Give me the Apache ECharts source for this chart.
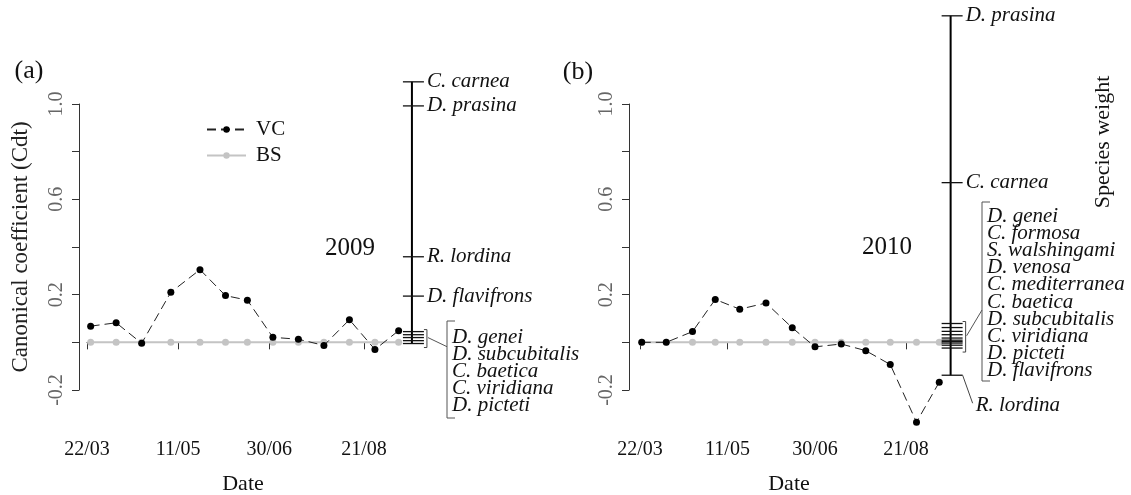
<!doctype html>
<html lang="en">
<head>
<meta charset="UTF-8">
<title>Canonical coefficients 2009 / 2010</title>
<style>html,body{margin:0;background:#fff}</style>
</head>
<body>
<div id="chart" style="width:1131px;height:495px"></div>
<script src="https://cdn.jsdelivr.net/npm/echarts@6/dist/echarts.min.js"></script>
<script>
// x values are day of year, the axis only labels four dates
var dateTicks = [81, 131, 181, 233];
var dateLabels = ['22/03', '11/05', '30/06', '21/08'];
var yLabelValues = [-0.2, 0.2, 0.6, 1.0];

var days2009 = [83, 97, 111, 127, 143, 157, 169, 183, 197, 211, 225, 239, 252];
var vc2009 = [0.068, 0.082, -0.004, 0.21, 0.305, 0.196, 0.177, 0.021, 0.013, -0.013, 0.095, -0.03, 0.049];
var bs2009 = [0, 0, 0, 0, 0, 0, 0, 0, 0, 0, 0, 0, 0];

var days2010 = [82, 96, 111, 124, 138, 153, 168, 181, 196, 210, 224, 239, 252];
var vc2010 = [0, 0, 0.045, 0.18, 0.139, 0.165, 0.061, -0.019, -0.007, -0.035, -0.093, -0.335, -0.167];
var bs2010 = [0, 0, 0, 0, 0, 0, 0, 0, 0, 0, 0, 0, 0];

// species weights, labelled one by one
var species2009 = ['C. carnea', 'D. prasina', 'R. lordina', 'D. flavifrons'];
var weights2009 = [1.093, 0.992, 0.359, 0.194];
// species weights close to zero, labelled as a block
var group2009 = ['D. genei', 'D. subcubitalis', 'C. baetica', 'C. viridiana', 'D. picteti'];
var groupWeights2009 = [0.045, 0.032, 0.02, 0.007, -0.005];

var species2010 = ['D. prasina', 'C. carnea', 'R. lordina'];
var weights2010 = [1.37, 0.67, -0.138];
var group2010 = ['D. genei', 'C. formosa', 'S. walshingami', 'D. venosa', 'C. mediterranea',
                 'C. baetica', 'D. subcubitalis', 'C. viridiana', 'D. picteti', 'D. flavifrons'];
var groupWeights2010 = [0.079, 0.062, 0.046, 0.032, 0.018, 0.009, 0.003, -0.003, -0.012, -0.024];

var serif = "'Liberation Serif', 'Times New Roman', serif";
var xMin = 81, xMax = 233, xFar = 270;   // xFar: room for late samples and the species axis

var panels = [
    {left: 87, width: 277, yOffset: 8, spineDay: 259.3, days: days2009, vc: vc2009, bs: bs2009,
     names: species2009, weights: weights2009, group: group2009, groupWeights: groupWeights2009,
     blockX: 447, blockTop: 321, blockBottom: 418, joinY: 346.7, shift: {}},
    {left: 640, width: 266, yOffset: 11, spineDay: 258.5, days: days2010, vc: vc2010, bs: bs2010,
     names: species2010, weights: weights2010, group: group2010, groupWeights: groupWeights2010,
     blockX: 982, blockTop: 202, blockBottom: 381, joinY: 310, shift: {'R. lordina': [10, 30]}}
];

function pairs(xs, ys) {
    return xs.map(function (x, i) { return [x, ys[i]]; });
}

var grids = [], xAxes = [], yAxes = [], series = [];

panels.forEach(function (p, k) {
    var gi = k * 2;        // data grid
    var ai = k * 2 + 1;    // grid that only carries the date axis
    var pxPerDay = p.width / (xMax - xMin);
    grids.push({left: p.left, width: pxPerDay * (xFar - xMin), top: 104, height: 286});
    grids.push({left: p.left, width: p.width, top: 104, height: 286});

    xAxes.push({type: 'value', gridIndex: gi, min: xMin, max: xFar, show: false});
    xAxes.push({
        type: 'value', gridIndex: ai, min: xMin, max: xMax, offset: 37,
        axisLine: {lineStyle: {color: '#333', width: 1}},
        axisTick: {length: 7, customValues: dateTicks, lineStyle: {color: '#333'}},
        axisLabel: {
            customValues: dateTicks, margin: 13, fontSize: 20, fontFamily: serif, color: '#111',
            formatter: function (v) { return dateLabels[dateTicks.indexOf(v)]; }
        },
        splitLine: {show: false}
    });
    yAxes.push({
        type: 'value', gridIndex: gi, min: -0.2, max: 1.0, interval: 0.2, offset: p.yOffset,
        name: k === 0 ? 'Canonical coefficient (Cdt)' : '',
        nameLocation: 'middle', nameGap: 47,
        nameTextStyle: {fontSize: 23, fontFamily: serif, color: '#222'},
        axisLine: {show: true, lineStyle: {color: '#333', width: 1}},
        axisTick: {show: true, length: 7, lineStyle: {color: '#333'}},
        axisLabel: {
            customValues: yLabelValues, rotate: 90, margin: 12, fontSize: 20, fontFamily: serif, color: '#666',
            formatter: function (v) { return v.toFixed(1); }
        },
        splitLine: {show: false}
    });
    yAxes.push({type: 'value', gridIndex: ai, min: -0.2, max: 1.0, show: false});

    series.push({
        name: 'BS', type: 'line', xAxisIndex: gi, yAxisIndex: gi, data: pairs(p.days, p.bs),
        symbol: 'circle', symbolSize: 7, clip: false, z: 2,
        itemStyle: {color: '#c4c4c4'}, lineStyle: {color: '#c4c4c4', width: 2}
    });
    series.push({
        name: 'VC', type: 'line', xAxisIndex: gi, yAxisIndex: gi, data: pairs(p.days, p.vc),
        symbol: 'circle', symbolSize: 7, clip: false, z: 3,
        itemStyle: {color: '#000'}, lineStyle: {color: '#222', width: 1, type: [9, 5]}
    });

    // species weight axis on the same scale
    var all = p.weights.concat(p.groupWeights);
    series.push({
        type: 'line', xAxisIndex: gi, yAxisIndex: gi, silent: true, clip: false, z: 4,
        data: [[p.spineDay, Math.max.apply(null, all)], [p.spineDay, Math.min.apply(null, all)]],
        symbol: 'none', lineStyle: {color: '#000', width: 2}
    });
    series.push({
        type: 'custom', xAxisIndex: gi, yAxisIndex: gi, silent: true, clip: false, z: 5,
        data: all.map(function (w, i) { return [p.spineDay, w, i]; }),
        renderItem: function (params, api) {
            var c = api.coord([api.value(0), api.value(1)]);
            var i = api.value(2);
            var kids = [{type: 'line', shape: {x1: c[0] - 9, y1: c[1], x2: c[0] + 12, y2: c[1]},
                         style: {stroke: '#111', lineWidth: 1.3}}];
            if (i < p.names.length) {
                var name = p.names[i];
                var s = p.shift[name] || [0, 0];
                if (s[1]) {
                    kids.push({type: 'line', shape: {x1: c[0] + 12, y1: c[1], x2: c[0] + 12 + s[0], y2: c[1] + s[1] - 2},
                               style: {stroke: '#444', lineWidth: 1}});
                }
                kids.push({type: 'text', style: {
                    text: name, x: c[0] + 15 + s[0], y: c[1] + s[1], verticalAlign: 'middle',
                    font: 'italic 21px ' + serif, fill: '#111'
                }});
            }
            return {type: 'group', children: kids};
        }
    });
    // bracket + list for the species near zero
    series.push({
        type: 'custom', xAxisIndex: gi, yAxisIndex: gi, silent: true, clip: false, z: 5,
        data: [[p.spineDay, Math.max.apply(null, p.groupWeights), Math.min.apply(null, p.groupWeights)]],
        renderItem: function (params, api) {
            var top = api.coord([api.value(0), api.value(1)]);
            var bot = api.coord([api.value(0), api.value(2)]);
            var x = top[0], bx = p.blockX;
            var midY = (top[1] + bot[1]) / 2;
            return {type: 'group', children: [
                {type: 'polyline', shape: {points: [[x + 12, top[1] - 2], [x + 15, top[1] - 2], [x + 15, bot[1] + 4], [x + 12, bot[1] + 4]]},
                 style: {stroke: '#444', lineWidth: 1, fill: null}},
                {type: 'line', shape: {x1: x + 16, y1: midY, x2: bx, y2: p.joinY},
                 style: {stroke: '#555', lineWidth: 1}},
                {type: 'polyline', shape: {points: [[bx + 8, p.blockTop], [bx, p.blockTop], [bx, p.blockBottom], [bx + 8, p.blockBottom]]},
                 style: {stroke: '#555', lineWidth: 1, fill: null}},
                {type: 'text', style: {
                    text: p.group.join('\n'), x: bx + 5, y: (p.blockTop + p.blockBottom) / 2 + 2,
                    verticalAlign: 'middle', lineHeight: 17.2,
                    font: 'italic 21px ' + serif, fill: '#111'
                }}
            ]};
        }
    });
});

function label(text, x, y, size, rot) {
    return {type: 'text', x: x, y: y, rotation: rot || 0, silent: true,
            style: {text: text, align: 'center', verticalAlign: 'middle',
                    font: size + 'px ' + serif, fill: '#111'}};
}

var chart = echarts.init(document.getElementById('chart'));
chart.setOption({
    animation: false,
    backgroundColor: '#fff',
    grid: grids,
    xAxis: xAxes,
    yAxis: yAxes,
    legend: {
        data: ['VC', 'BS'], orient: 'vertical', left: 201, top: 114,
        itemWidth: 39, itemHeight: 8, itemGap: 5,
        textStyle: {fontSize: 21, fontFamily: serif, color: '#111', padding: [0, 0, 0, 5]}
    },
    graphic: [
        label('(a)', 29, 71, 26),
        label('(b)', 578, 72, 26),
        label('2009', 350, 248, 25),
        label('2010', 887, 247, 25),
        label('Date', 243, 484, 22),
        label('Date', 789, 484, 22),
        label('Species weight', 1103, 142, 22, Math.PI / 2)
    ],
    series: series
});
</script>
</body>
</html>
